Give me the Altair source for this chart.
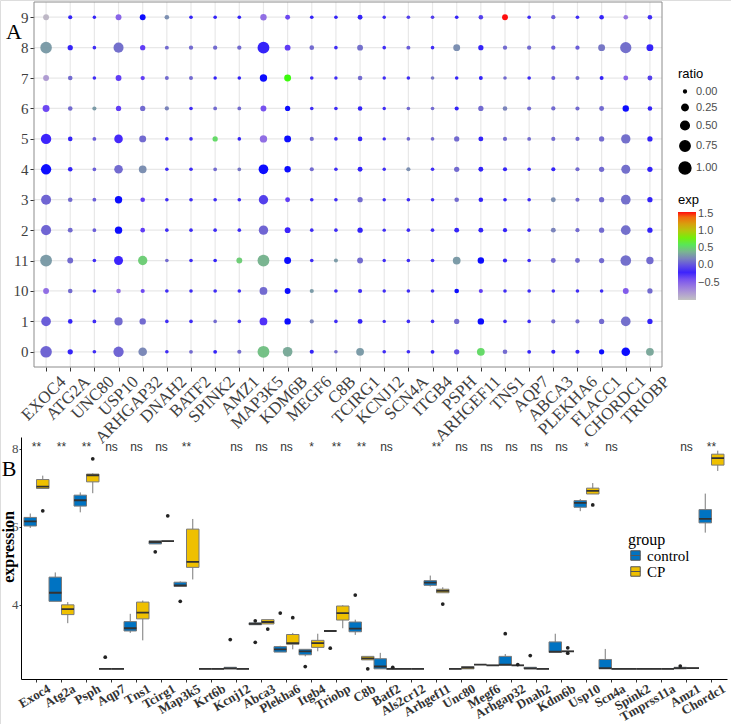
import altair as alt
import pandas as pd

# ---------------- Panel A data ----------------
A_GENES = ["EXOC4", "ATG2A", "UNC80", "USP10", "ARHGAP32", "DNAH2", "BATF2", "SPINK2",
           "AMZ1", "MAP3K5", "KDM6B", "MEGF6", "C8B", "TCIRG1", "KCNJ12", "SCN4A",
           "ITGB4", "PSPH", "ARHGEF11", "TNS1", "AQP7", "ABCA3", "PLEKHA6", "FLACC1",
           "CHORDC1", "TRIOBP"]
A_CLUSTERS = ["9", "8", "7", "6", "5", "4", "3", "2", "11", "10", "1", "0"]

RATIO = {
    "9": [0.20, 0.07, 0.03, 0.20, 0.20, 0.10, 0.04, 0.04, 0.04, 0.25, 0.12, 0.04, 0.04, 0.12, 0.03, 0.04, 0.04, 0.04, 0.10, 0.20, 0.04, 0.08, 0.04, 0.10, 0.10, 0.10],
    "8": [0.95, 0.15, 0.04, 0.70, 0.15, 0.06, 0.08, 0.08, 0.08, 1.00, 0.20, 0.10, 0.04, 0.20, 0.04, 0.06, 0.04, 0.30, 0.15, 0.08, 0.08, 0.08, 0.08, 0.30, 0.90, 0.30],
    "7": [0.20, 0.10, 0.04, 0.20, 0.08, 0.06, 0.06, 0.03, 0.04, 0.35, 0.30, 0.04, 0.03, 0.10, 0.03, 0.04, 0.04, 0.04, 0.06, 0.04, 0.04, 0.06, 0.06, 0.06, 0.12, 0.12],
    "6": [0.30, 0.10, 0.07, 0.15, 0.15, 0.08, 0.04, 0.05, 0.05, 0.20, 0.15, 0.04, 0.04, 0.10, 0.03, 0.04, 0.04, 0.07, 0.15, 0.10, 0.07, 0.08, 0.07, 0.12, 0.25, 0.10],
    "5": [0.75, 0.10, 0.05, 0.50, 0.30, 0.04, 0.04, 0.15, 0.04, 0.35, 0.30, 0.07, 0.04, 0.10, 0.03, 0.04, 0.04, 0.15, 0.12, 0.07, 0.05, 0.07, 0.07, 0.15, 0.60, 0.15],
    "4": [0.75, 0.10, 0.05, 0.50, 0.40, 0.04, 0.04, 0.05, 0.05, 0.65, 0.25, 0.07, 0.04, 0.12, 0.03, 0.07, 0.04, 0.15, 0.12, 0.07, 0.04, 0.07, 0.07, 0.15, 0.55, 0.15],
    "3": [0.70, 0.10, 0.05, 0.35, 0.10, 0.04, 0.04, 0.04, 0.04, 0.60, 0.12, 0.04, 0.04, 0.15, 0.03, 0.04, 0.04, 0.10, 0.10, 0.04, 0.04, 0.12, 0.07, 0.15, 0.65, 0.15],
    "2": [0.70, 0.12, 0.05, 0.35, 0.10, 0.04, 0.04, 0.04, 0.04, 0.60, 0.20, 0.04, 0.04, 0.15, 0.03, 0.04, 0.04, 0.12, 0.12, 0.07, 0.04, 0.12, 0.07, 0.15, 0.65, 0.15],
    "11": [1.00, 0.20, 0.04, 0.55, 0.60, 0.04, 0.04, 0.04, 0.20, 1.00, 0.30, 0.04, 0.06, 0.20, 0.03, 0.04, 0.04, 0.40, 0.25, 0.07, 0.04, 0.12, 0.12, 0.15, 0.80, 0.35],
    "10": [0.20, 0.10, 0.04, 0.10, 0.07, 0.04, 0.04, 0.04, 0.04, 0.40, 0.20, 0.07, 0.04, 0.07, 0.03, 0.04, 0.04, 0.10, 0.07, 0.04, 0.04, 0.04, 0.04, 0.04, 0.20, 0.15],
    "1": [0.65, 0.10, 0.05, 0.45, 0.25, 0.04, 0.04, 0.04, 0.04, 0.40, 0.25, 0.07, 0.04, 0.12, 0.03, 0.04, 0.04, 0.15, 0.25, 0.04, 0.04, 0.07, 0.07, 0.15, 0.65, 0.15],
    "0": [0.95, 0.15, 0.04, 0.75, 0.50, 0.04, 0.05, 0.05, 0.07, 1.00, 0.65, 0.07, 0.04, 0.40, 0.04, 0.04, 0.05, 0.15, 0.40, 0.10, 0.05, 0.07, 0.07, 0.15, 0.50, 0.40],
}
EXP = {
    "9": [-0.95, -0.12, -0.12, -0.50, -0.15, 0.25, -0.12, -0.12, -0.12, -0.55, -0.35, -0.12, -0.12, -0.12, -0.10, -0.05, -0.05, -0.12, -0.05, 1.55, -0.10, 0.05, -0.10, -0.12, -0.60, -0.10],
    "8": [0.30, -0.12, -0.10, 0.12, -0.30, 0.10, 0.10, 0.10, 0.10, -0.12, -0.30, 0.10, -0.10, 0.12, -0.10, 0.05, -0.10, 0.25, -0.12, 0.10, 0.10, 0.05, 0.05, 0.15, 0.12, -0.12],
    "7": [-0.80, 0.10, -0.10, -0.30, -0.30, 0.10, 0.10, -0.12, -0.12, -0.15, 0.72, -0.10, -0.10, 0.10, -0.10, -0.10, 0.15, -0.12, -0.12, 0.10, -0.10, 0.05, 0.10, -0.12, -0.50, -0.05],
    "6": [-0.35, 0.10, 0.30, -0.30, 0.10, 0.20, -0.10, 0.10, 0.10, -0.40, -0.15, -0.10, -0.10, -0.12, -0.10, 0.10, 0.10, -0.12, 0.10, 0.20, 0.10, 0.10, 0.10, 0.10, -0.15, -0.12],
    "5": [-0.20, -0.12, 0.05, -0.22, 0.10, -0.10, -0.10, 0.55, -0.12, -0.55, -0.15, 0.10, -0.10, -0.12, -0.10, 0.10, 0.10, 0.10, -0.12, 0.10, 0.10, 0.10, 0.10, 0.10, 0.12, -0.12],
    "4": [-0.15, -0.12, 0.05, 0.10, 0.25, -0.10, -0.10, 0.10, 0.15, -0.15, -0.15, 0.10, -0.10, -0.12, -0.10, 0.25, -0.10, 0.10, -0.12, -0.12, -0.10, -0.12, 0.10, 0.10, 0.12, -0.12],
    "3": [0.08, 0.10, 0.05, -0.15, -0.30, -0.10, -0.10, -0.10, -0.10, -0.05, -0.30, -0.10, -0.10, 0.10, -0.10, -0.10, -0.10, 0.10, -0.12, -0.12, -0.10, 0.25, 0.10, 0.10, 0.12, -0.12],
    "2": [0.08, 0.10, 0.05, -0.15, -0.30, -0.10, -0.10, -0.10, -0.10, 0.08, -0.20, -0.10, -0.10, -0.12, -0.10, -0.10, -0.10, -0.12, -0.12, -0.12, -0.10, 0.20, 0.10, 0.10, 0.12, -0.12],
    "11": [0.30, 0.10, -0.10, -0.20, 0.50, 0.10, -0.10, -0.12, 0.50, 0.40, -0.15, -0.10, 0.30, 0.10, -0.10, -0.10, -0.10, 0.30, -0.15, -0.12, -0.10, 0.10, 0.10, 0.10, 0.12, 0.10],
    "10": [-0.55, 0.10, -0.10, -0.55, -0.35, -0.10, -0.10, -0.10, -0.10, 0.10, -0.15, 0.30, -0.10, -0.10, -0.10, -0.10, -0.10, -0.15, -0.30, -0.10, -0.10, -0.10, -0.10, -0.10, -0.45, 0.10],
    "1": [0.05, -0.12, -0.10, 0.10, 0.10, -0.10, -0.10, 0.10, -0.10, -0.25, -0.15, 0.20, -0.10, -0.12, -0.10, -0.10, -0.10, 0.10, -0.15, -0.10, -0.10, 0.10, 0.10, 0.10, 0.12, -0.12],
    "0": [0.08, -0.12, -0.10, 0.08, 0.22, -0.10, 0.10, -0.12, 0.10, 0.45, 0.36, -0.12, 0.10, 0.30, -0.10, -0.10, -0.12, 0.00, 0.55, 0.10, -0.12, -0.12, -0.12, -0.15, -0.15, 0.35],
}

# ---------------- Panel B data ----------------
B_GENES = ["Exoc4", "Atg2a", "Psph", "Aqp7", "Tns1", "Tcirg1", "Map3k5", "Krt6b", "Kcnj12",
           "Abca3", "Plekha6", "Itgb4", "Triobp", "C8b", "Batf2", "Als2cr12", "Arhgef11",
           "Unc80", "Megf6", "Arhgap32", "Dnah2", "Kdm6b", "Usp10", "Scn4a", "Spink2",
           "Tmprss11a", "Amz1", "Chordc1"]
GROUPS = ["control", "CP"]

CTRL_LO = [5.97, 4.09, 6.37, 2.36, 3.28, 5.56, 4.47, 2.36, 2.36, 3.49, 2.79, 2.68, 3.33, 3.23, 2.36, 2.36, 4.47, 2.36, 2.47, 2.45, 2.36, 2.78, 6.40, 2.36, 2.36, 2.36, 2.36, 5.85]
CTRL_Q1 = [6.02, 4.09, 6.53, 2.36, 3.33, 5.56, 4.47, 2.36, 2.36, 3.49, 2.79, 2.72, 3.33, 3.31, 2.36, 2.36, 4.50, 2.36, 2.47, 2.45, 2.36, 2.78, 6.50, 2.36, 2.36, 2.36, 2.36, 6.10]
CTRL_MED = [6.14, 4.31, 6.68, 2.36, 3.40, 5.61, 4.50, 2.36, 2.37, 3.51, 2.86, 2.81, 3.33, 3.39, 2.42, 2.36, 4.57, 2.36, 2.47, 2.47, 2.37, 2.80, 6.61, 2.38, 2.36, 2.36, 2.38, 6.20]
CTRL_Q3 = [6.24, 4.71, 6.81, 2.36, 3.57, 5.64, 4.58, 2.36, 2.40, 3.54, 2.93, 2.86, 3.33, 3.56, 2.62, 2.36, 4.62, 2.36, 2.47, 2.68, 2.40, 3.05, 6.67, 2.60, 2.36, 2.36, 2.40, 6.44]
CTRL_HI = [6.34, 4.83, 6.88, 2.36, 3.77, 5.64, 4.60, 2.36, 2.40, 3.54, 2.95, 2.86, 3.33, 3.62, 2.77, 2.36, 4.75, 2.36, 2.47, 2.74, 2.40, 3.26, 6.71, 2.87, 2.36, 2.36, 2.40, 6.85]

CP_LO = [6.98, 3.53, 6.86, 2.36, 3.09, 5.63, 4.65, 2.36, 2.36, 3.51, 2.86, 2.81, 3.40, 2.59, 2.36, 2.36, 4.31, 2.36, 2.45, 2.45, 2.36, 2.81, 6.84, 2.36, 2.36, 2.36, 2.38, 7.43]
CP_Q1 = [6.98, 3.75, 7.15, 2.36, 3.64, 5.63, 4.96, 2.36, 2.36, 3.51, 2.99, 2.91, 3.61, 2.59, 2.36, 2.36, 4.31, 2.36, 2.45, 2.45, 2.36, 2.81, 6.84, 2.36, 2.36, 2.36, 2.38, 7.58]
CP_MED = [7.03, 3.89, 7.32, 2.36, 3.80, 5.63, 5.10, 2.36, 2.36, 3.56, 3.02, 3.02, 3.79, 2.63, 2.36, 2.36, 4.36, 2.39, 2.45, 2.45, 2.36, 2.81, 6.92, 2.36, 2.36, 2.36, 2.38, 7.76]
CP_Q3 = [7.21, 4.00, 7.35, 2.36, 4.07, 5.63, 5.94, 2.36, 2.36, 3.62, 3.24, 3.09, 3.97, 2.68, 2.36, 2.36, 4.40, 2.42, 2.45, 2.45, 2.36, 2.81, 6.99, 2.36, 2.36, 2.36, 2.38, 7.86]
CP_HI = [7.31, 4.07, 7.37, 2.36, 4.11, 5.63, 6.20, 2.36, 2.36, 3.62, 3.28, 3.26, 3.99, 2.68, 2.36, 2.36, 4.45, 2.42, 2.45, 2.45, 2.36, 2.81, 7.12, 2.36, 2.36, 2.36, 2.38, 7.95]

OUT_GENE = ["Exoc4", "Psph", "Aqp7", "Tcirg1", "Tcirg1", "Map3k5", "Kcnj12", "Abca3", "Abca3",
            "Abca3", "Plekha6", "Plekha6", "Itgb4", "Triobp", "C8b", "C8b", "Batf2", "Arhgef11",
            "Arhgap32", "Arhgap32", "Dnah2", "Kdm6b", "Kdm6b", "Usp10", "Amz1"]
OUT_GROUP = ["CP", "CP", "control", "control", "CP", "control", "control", "control", "control",
             "CP", "control", "CP", "control", "control", "control", "CP", "CP", "CP",
             "control", "CP", "control", "CP", "CP", "CP", "control"]
OUT_VALUE = [6.41, 7.74, 2.66, 5.36, 6.28, 4.09, 3.11, 3.59, 3.04, 3.38, 3.79, 3.67, 2.42, 2.89,
             4.25, 2.36, 2.40, 4.02, 3.26, 2.47, 2.70, 2.90, 2.76, 6.56, 2.43]

SIG = ["**", "**", "**", "ns", "ns", "ns", "**", "", "ns", "ns", "ns", "*", "**", "**", "ns", "",
       "**", "ns", "ns", "ns", "ns", "ns", "*", "ns", "", "", "ns", "**"]

# ---------------- tables ----------------
rowsA = []
for c in A_CLUSTERS:
    for g, r, e in zip(A_GENES, RATIO[c], EXP[c]):
        rowsA.append({"gene": g, "cluster": c, "ratio": r, "exp": e})
dfA = pd.DataFrame(rowsA)
dfAg = pd.DataFrame({"gene": A_GENES})
dfAc = pd.DataFrame({"cluster": A_CLUSTERS})

rowsB = []
for i, g in enumerate(B_GENES):
    rowsB.append({"gene": g, "group": "control", "lo": CTRL_LO[i], "q1": CTRL_Q1[i],
                  "med": CTRL_MED[i], "q3": CTRL_Q3[i], "hi": CTRL_HI[i]})
    rowsB.append({"gene": g, "group": "CP", "lo": CP_LO[i], "q1": CP_Q1[i],
                  "med": CP_MED[i], "q3": CP_Q3[i], "hi": CP_HI[i]})
dfB = pd.DataFrame(rowsB)
dfOut = pd.DataFrame({"gene": OUT_GENE, "group": OUT_GROUP, "value": OUT_VALUE})
dfSig = pd.DataFrame({"gene": B_GENES, "sig": SIG})

SERIF = "Liberation Serif"
SANS = "Liberation Sans"

# ---------------- Panel A ----------------
xA = alt.X("gene:N", sort=A_GENES,
           scale=alt.Scale(type="point", range=[34, 662], padding=0.5),
           axis=alt.Axis(orient="bottom", offset=-357, title=None, domain=False, grid=False,
                         labelAngle=-45, labelAlign="right", labelBaseline="top",
                         labelFont=SERIF, labelFontSize=17, labelColor="#404040",
                         labelOffset=11, labelPadding=2, tickColor="#333333", tickSize=4,
                         labelOverlap=False))
yA = alt.Y("cluster:N", sort=A_CLUSTERS,
           scale=alt.Scale(type="point", range=[2, 367], padding=0.5),
           axis=alt.Axis(orient="left", offset=-34, title=None, domain=False, grid=False,
                         labelFont=SERIF, labelFontSize=15, labelColor="#404040",
                         tickColor="#333333", tickSize=4, labelPadding=2, labelOverlap=False))

gridV = alt.Chart(dfAg).mark_rule(color="#e8e8e8", strokeWidth=1.2).encode(
    x=xA, y=alt.value(2), y2=alt.value(367))
gridH = alt.Chart(dfAc).mark_rule(color="#e8e8e8", strokeWidth=1.2).encode(
    y=yA, x=alt.value(34), x2=alt.value(662))
border = alt.Chart(pd.DataFrame({"k": [0]})).mark_rect(
    fillOpacity=0, stroke="#8c8c8c", strokeWidth=1).encode(
    x=alt.value(34), x2=alt.value(662), y=alt.value(2), y2=alt.value(367))
points = alt.Chart(dfA).mark_circle(opacity=0.95).encode(
    x=xA, y=yA,
    size=alt.Size("ratio:Q", scale=alt.Scale(domain=[0, 1], range=[8, 140]),
                  legend=alt.Legend(title="ratio", orient="none", legendX=678, legendY=68,
                                    values=[0, 0.25, 0.5, 0.75, 1], format=".2f",
                                    titleFont=SANS, titleFontSize=13, titleFontWeight="normal",
                                    titleColor="black", labelFont=SANS, labelFontSize=11,
                                    labelColor="#4d4d4d", symbolFillColor="black",
                                    symbolStrokeColor="black", symbolOpacity=1, rowPadding=4,
                                    symbolType="circle")),
    color=alt.Color("exp:Q",
                    scale=alt.Scale(domain=[-1.0, -0.15, 0.7, 1.55],
                                    range=["#BEBEBE", "#0000FF", "#00FF00", "#FF0000"],
                                    interpolate="lab"),
                    legend=alt.Legend(title="exp", orient="none", legendX=678, legendY=194,
                                      direction="vertical", gradientLength=88,
                                      gradientThickness=18, values=[-0.5, 0, 0.5, 1.0, 1.5],
                                      format=".1f", titleFont=SANS, titleFontSize=13,
                                      titleFontWeight="normal", titleColor="black",
                                      labelFont=SANS, labelFontSize=11, labelColor="#4d4d4d")),
)
letterA = alt.Chart(pd.DataFrame({"t": ["A"]})).mark_text(
    font=SERIF, fontSize=22, color="black", align="center", baseline="middle").encode(
    x=alt.value(14), y=alt.value(32), text="t:N")

panelA = alt.layer(gridV, gridH, points, border, letterA)

# ---------------- Panel B ----------------
xB = alt.X("gene:N", sort=B_GENES,
           scale=alt.Scale(type="band", range=[21, 727], paddingInner=0, paddingOuter=0.12),
           axis=alt.Axis(orient="bottom", offset=-45, title=None, grid=False,
                         labelAngle=-30, labelAlign="right", labelBaseline="top",
                         labelFont=SERIF, labelFontWeight="bold", labelFontSize=13,
                         labelColor="#333333", labelOffset=10, labelPadding=0,
                         tickColor="#333333", tickSize=3, domainColor="black",
                         labelOverlap=False))
xoB = alt.XOffset("group:N", sort=GROUPS, scale=alt.Scale(paddingInner=0, paddingOuter=0))
yScaleB = alt.Scale(domain=[2.1, 8.3], range=[679, 437], nice=False, zero=False)
yAxisB = alt.Axis(orient="left", offset=-21, title=None, grid=False, values=[4, 6, 8],
                  labelFont=SERIF, labelFontSize=13, labelColor="#4d4d4d",
                  tickColor="#333333", tickSize=2, domainColor="black", labelPadding=1)

boxes = alt.Chart(dfB).mark_bar(stroke="#7a7a7a", strokeWidth=1).encode(
    x=xB, xOffset=xoB,
    y=alt.Y("q1:Q", scale=yScaleB, axis=yAxisB), y2="q3:Q",
    fill=alt.Fill("group:N", sort=GROUPS,
                  scale=alt.Scale(domain=GROUPS, range=["#0073C2", "#EFC000"]),
                  legend=alt.Legend(title="group", orient="none", legendX=628, legendY=532,
                                    titleFont=SERIF, titleFontSize=16, titleFontWeight="normal",
                                    titleColor="black", labelFont=SERIF, labelFontSize=15,
                                    labelColor="black", symbolType="M-1,-1H1V1H-1Z M-1,0H1",
                                    symbolSize=90, symbolStrokeColor="#555555",
                                    symbolStrokeWidth=1, rowPadding=0, titlePadding=0)))
wlo = alt.Chart(dfB).mark_rule(color="#7a7a7a", strokeWidth=1).encode(
    x=xB, xOffset=xoB, y=alt.Y("lo:Q", scale=yScaleB, axis=yAxisB), y2="q1:Q")
whi = alt.Chart(dfB).mark_rule(color="#7a7a7a", strokeWidth=1).encode(
    x=xB, xOffset=xoB, y=alt.Y("q3:Q", scale=yScaleB, axis=yAxisB), y2="hi:Q")
meds = alt.Chart(dfB).mark_bar(fillOpacity=0, stroke="#333333", strokeWidth=1.8).encode(
    x=xB, xOffset=xoB, y=alt.Y("med:Q", scale=yScaleB, axis=yAxisB), y2="med:Q")
outs = alt.Chart(dfOut).mark_circle(color="#222222", opacity=1, size=14).encode(
    x=xB, xOffset=xoB, y=alt.Y("value:Q", scale=yScaleB, axis=yAxisB))
sig = alt.Chart(dfSig).mark_text(font=SANS, fontSize=12, color="#333333",
                                 baseline="middle", align="center").encode(
    x=xB, y=alt.value(447), text="sig:N")
letterB = alt.Chart(pd.DataFrame({"t": ["B"]})).mark_text(
    font=SERIF, fontSize=22, color="black", align="center", baseline="middle").encode(
    x=alt.value(9), y=alt.value(469), text="t:N")
ylabB = alt.Chart(pd.DataFrame({"t": ["expression"]})).mark_text(
    font=SERIF, fontSize=16, fontWeight="bold", color="black", align="center",
    baseline="middle", angle=270).encode(
    x=alt.value(9), y=alt.value(547), text="t:N")

panelB = alt.layer(boxes, wlo, whi, meds, outs, sig, letterB, ylabB)

chart = alt.layer(panelA, panelB).resolve_scale(
    x="independent", y="independent", color="independent", size="independent"
).properties(
    width=731, height=724, padding=0,
    autosize=alt.AutoSizeParams(type="none"),
).configure_view(stroke=None).configure(background="white")

chart.save("out.html", embed_options={"renderer": "svg", "actions": False})
